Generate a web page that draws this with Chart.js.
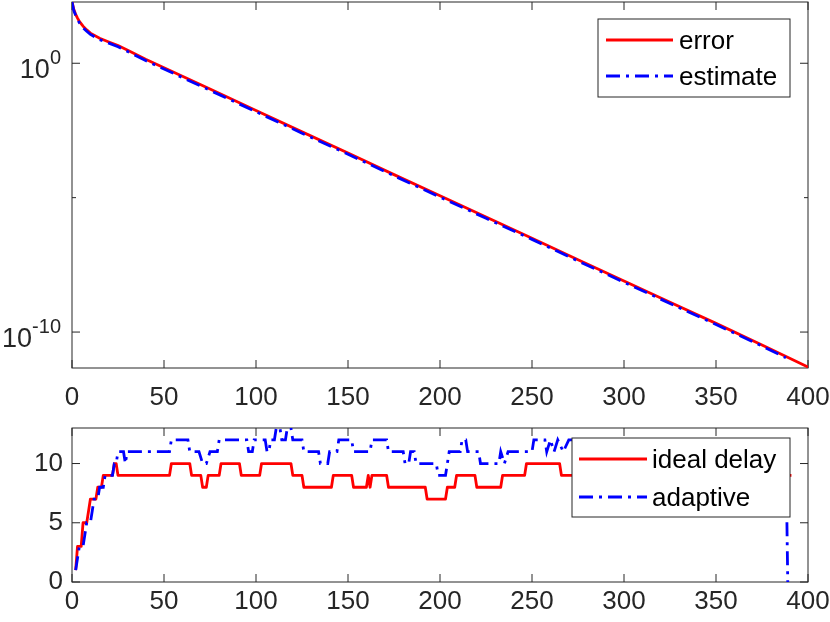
<!DOCTYPE html>
<html>
<head>
<meta charset="utf-8">
<script src="https://cdn.jsdelivr.net/npm/chart.js@4.4.1/dist/chart.umd.min.js"></script>
<style>
  body { margin: 0; background: #fff; }
  #wrap { position: relative; width: 830px; height: 622px; }
  canvas { position: absolute; left: 0; }
  #top { top: 0; }
  #bottom { top: 400px; }
</style>
</head>
<body>
<div id="wrap">
  <canvas id="top" width="830" height="420"></canvas>
  <canvas id="bottom" width="830" height="222"></canvas>
</div>
<script>
// top panel: error vs estimate (log scale)
const errIters = [0, 1, 2, 3, 4, 6, 8, 10, 15, 20, 25, 30, 40, 50, 75, 100, 125, 150, 175, 200, 225, 250, 275, 300, 325, 350, 375, 400];
const errorVals = [200, 100, 66, 48, 36, 24, 17.4, 13.2, 8.5, 6.2, 4.6, 3.1, 1.41, 0.68, 0.11, 1.74e-2, 2.8e-3, 4.6e-4, 7.2e-5, 1.17e-5, 1.9e-6, 3.1e-7, 4.9e-8, 7.9e-9, 1.29e-9, 2.1e-10, 3.3e-11, 5.0e-12];
const estIters = [0, 1, 2, 3, 4, 6, 8, 10, 15, 20, 25, 30, 40, 50, 75, 100, 125, 150, 175, 200, 225, 250, 275, 300, 325, 350, 375, 388];
const estimateVals = [190, 90, 60, 43, 32, 21, 15.5, 11.8, 7.6, 5.6, 4.1, 2.8, 1.27, 0.61, 0.098, 1.56e-2, 2.5e-3, 4.1e-4, 6.5e-5, 1.05e-5, 1.7e-6, 2.8e-7, 4.4e-8, 7.1e-9, 1.16e-9, 1.9e-10, 3.0e-11, 1.1e-11];
const logTicks = [1e-10, 1e-5, 1];
const logLabelled = { "1": "0", "1e-10": "-10" };

// bottom panel: delays (breakpoints of the step curves)
const idealX = [2, 3, 5, 6, 8, 9, 10, 13, 14, 16, 17, 22, 23, 24, 25, 53, 54, 64, 65, 70, 71, 73, 74, 80, 81, 91, 92, 102, 103, 119, 120, 125, 126, 141, 142, 152, 153, 160, 161, 162, 163, 171, 172, 192, 193, 203, 204, 208, 209, 219, 220, 233, 234, 246, 247, 265, 266, 391];
const idealY = [1, 3, 3, 5, 5, 6, 7, 7, 8, 8, 9, 9, 10, 10, 9, 9, 10, 10, 9, 9, 8, 8, 9, 9, 10, 10, 9, 9, 10, 10, 9, 9, 8, 8, 9, 9, 8, 8, 9, 8, 9, 9, 8, 8, 7, 7, 8, 8, 9, 9, 8, 8, 9, 9, 10, 10, 9, 9];
const adaptX = [2, 4, 6, 7, 8, 10, 11, 12, 14, 15, 17, 18, 22, 23, 24, 25, 28, 29, 30, 53, 54, 63, 64, 69, 71, 73, 75, 79, 80, 95, 96, 98, 99, 105, 106, 107, 108, 110, 111, 113, 114, 116, 117, 119, 120, 125, 126, 134, 135, 139, 140, 144, 145, 152, 153, 162, 163, 171, 172, 180, 181, 183, 184, 186, 187, 198, 199, 203, 205, 211, 212, 214, 215, 221, 222, 232, 233, 235, 237, 250, 251, 257, 258, 260, 262, 264, 267, 270, 290, 291, 310, 311, 330, 331, 350, 351, 365, 366, 388, 389];
const adaptY = [1, 3, 3, 4, 5, 5, 6, 7, 7, 8, 8, 9, 9, 10, 10, 11, 11, 10, 11, 11, 12, 12, 11, 11, 10, 10, 11, 11, 12, 12, 11, 11, 12, 12, 11, 11, 12, 12, 13, 13, 12, 12, 13, 13, 12, 12, 11, 11, 10, 10, 11, 11, 12, 12, 11, 11, 12, 12, 11, 11, 10, 10, 11, 11, 10, 10, 9, 9, 11, 11, 12, 12, 11, 11, 10, 10, 11, 10, 11, 11, 12, 12, 11, 12, 11, 12, 11, 12, 12, 11, 11, 12, 12, 11, 11, 12, 12, 11, 11, 0];
const delayTicks = [0, 5, 10];

const RED = "#ff0000";
const BLUE = "#0000ff";
const AX = "#262626";
const FONT = "'Liberation Sans', Arial, Helvetica, sans-serif";
const DASHDOT = [14, 6, 3, 6];
const LW = 2.8;

const pts = (xs, ys) => xs.map((x, i) => ({ x: x, y: ys[i] }));

// axes box + inward ticks, MATLAB style
function drawFrame(chart, minorY) {
    const ctx = chart.ctx;
    const a = chart.chartArea;
    ctx.save();
    ctx.strokeStyle = AX;
    ctx.lineWidth = 1;
    ctx.strokeRect(a.left, a.top, a.right - a.left, a.bottom - a.top);
    ctx.beginPath();
    chart.scales.x.ticks.forEach(t => {
        const px = chart.scales.x.getPixelForValue(t.value);
        ctx.moveTo(px, a.bottom); ctx.lineTo(px, a.bottom - 8);
        ctx.moveTo(px, a.top); ctx.lineTo(px, a.top + 8);
    });
    chart.scales.y.ticks.forEach(t => {
        const py = chart.scales.y.getPixelForValue(t.value);
        const len = (minorY && minorY.includes(t.value)) ? 4 : 8;
        ctx.moveTo(a.left, py); ctx.lineTo(a.left + len, py);
        ctx.moveTo(a.right, py); ctx.lineTo(a.right - len, py);
    });
    ctx.stroke();
    ctx.restore();
}

function drawLegend(ctx, box, items) {
    ctx.save();
    ctx.fillStyle = "#fff";
    ctx.fillRect(box.x, box.y, box.w, box.h);
    ctx.strokeStyle = AX;
    ctx.lineWidth = 1;
    ctx.strokeRect(box.x, box.y, box.w, box.h);
    items.forEach(it => {
        ctx.beginPath();
        ctx.strokeStyle = it.color;
        ctx.lineWidth = LW;
        ctx.setLineDash(it.dash || []);
        ctx.moveTo(box.x + box.lineX0, it.y);
        ctx.lineTo(box.x + box.lineX1, it.y);
        ctx.stroke();
        ctx.setLineDash([]);
        ctx.fillStyle = "#000";
        ctx.font = "26px " + FONT;
        ctx.textBaseline = "middle";
        ctx.textAlign = "left";
        ctx.fillText(it.label, box.x + box.textX, it.y + 2);
    });
    ctx.restore();
}

const xScale = (pad, h) => ({
    type: "linear", min: 0, max: 400,
    ticks: { stepSize: 50, color: AX, font: { family: FONT, size: 26 }, padding: pad, maxRotation: 0 },
    grid: { display: false, drawTicks: false },
    border: { display: false },
    afterFit: s => { s.height = h; s.paddingLeft = 0; s.paddingRight = 0; }
});

new Chart(document.getElementById("top"), {
    type: "line",
    data: {
        datasets: [
            { label: "estimate", data: pts(estIters, estimateVals), borderColor: BLUE, borderWidth: LW, borderDash: DASHDOT, pointRadius: 0, order: 0 },
            { label: "error", data: pts(errIters, errorVals), borderColor: RED, borderWidth: LW, pointRadius: 0, order: 1 }
        ]
    },
    options: {
        responsive: false, animation: false,
        layout: { padding: { top: 2, right: 22, left: 0, bottom: 0 } },
        plugins: { legend: { display: false }, tooltip: { enabled: false } },
        scales: {
            x: xScale(14, 52),
            y: {
                type: "logarithmic", min: 4.6e-12, max: 190,
                afterBuildTicks: s => { s.ticks = logTicks.map(v => ({ value: v })); },
                ticks: { display: false },
                grid: { display: false, drawTicks: false },
                border: { display: false },
                afterFit: s => { s.width = 72; s.paddingTop = 0; s.paddingBottom = 0; }
            }
        }
    },
    plugins: [{
        id: "matlabTop",
        beforeDatasetsDraw(chart) { drawFrame(chart, [1e-5]); },
        afterDraw(chart) {
            const ctx = chart.ctx;
            const ys = chart.scales.y;
            ctx.save();
            ctx.fillStyle = AX;
            ctx.textAlign = "right";
            ctx.textBaseline = "alphabetic";
            logTicks.forEach(v => {
                const exp = logLabelled[String(v)];
                if (exp === undefined) return;
                const py = ys.getPixelForValue(v);
                ctx.font = "20px " + FONT;
                const ew = ctx.measureText(exp).width;
                ctx.fillText(exp, 61, py + 1);
                ctx.font = "27px " + FONT;
                ctx.fillText("10", 61 - ew, py + 15);
            });
            ctx.restore();
            drawLegend(ctx, { x: 598, y: 19, w: 192, h: 78, lineX0: 8, lineX1: 75, textX: 81 }, [
                { label: "error", color: RED, y: 40 },
                { label: "estimate", color: BLUE, dash: DASHDOT, y: 76 }
            ]);
        }
    }]
});

new Chart(document.getElementById("bottom"), {
    type: "line",
    data: {
        datasets: [
            { label: "adaptive", data: pts(adaptX, adaptY), borderColor: BLUE, borderWidth: LW, borderDash: DASHDOT, pointRadius: 0, order: 0 },
            { label: "ideal delay", data: pts(idealX, idealY), borderColor: RED, borderWidth: LW, borderJoinStyle: "round", pointRadius: 0, order: 1 }
        ]
    },
    options: {
        responsive: false, animation: false,
        layout: { padding: { top: 28, right: 22, left: 0, bottom: 0 } },
        plugins: { legend: { display: false }, tooltip: { enabled: false } },
        scales: {
            x: xScale(4, 40),
            y: {
                type: "linear", min: 0, max: 13,
                afterBuildTicks: s => { s.ticks = delayTicks.map(v => ({ value: v })); },
                ticks: { color: AX, font: { family: FONT, size: 26 }, padding: 9 },
                grid: { display: false, drawTicks: false },
                border: { display: false },
                afterFit: s => { s.width = 72; s.paddingTop = 0; s.paddingBottom = 0; }
            }
        }
    },
    plugins: [{
        id: "matlabBottom",
        beforeDatasetsDraw(chart) { drawFrame(chart); },
        afterDraw(chart) {
            drawLegend(chart.ctx, { x: 572, y: 38, w: 218, h: 79, lineX0: 7, lineX1: 75, textX: 80 }, [
                { label: "ideal delay", color: RED, y: 59 },
                { label: "adaptive", color: BLUE, dash: DASHDOT, y: 97 }
            ]);
        }
    }]
});
</script>
</body>
</html>
